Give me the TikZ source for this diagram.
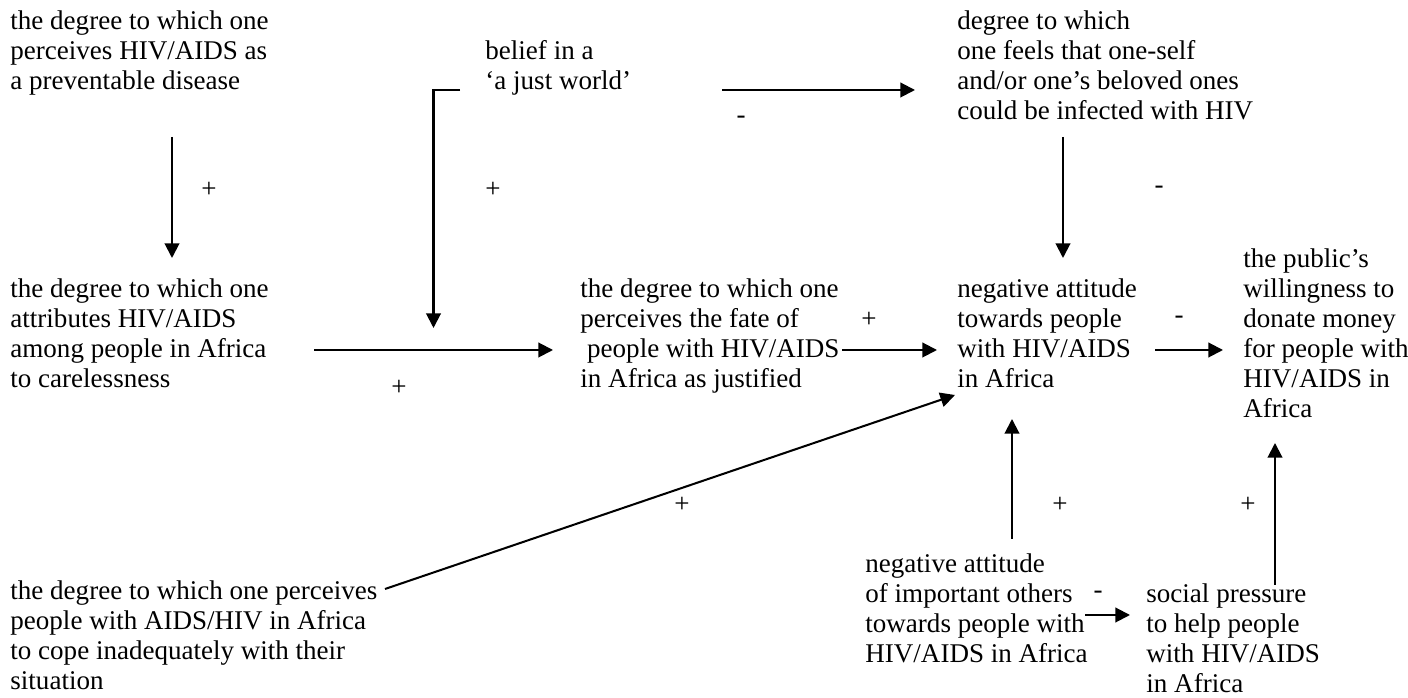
\documentclass[tikz,border=0pt]{standalone}
\usepackage{fontspec}
\setmainfont{Liberation Serif}
\usetikzlibrary{arrows.meta,calc}
\begin{document}
\begin{tikzpicture}[x=0.444pt,y=-0.444pt,
        box/.style={anchor=north west,inner sep=0pt,align=left,
            font=\fontsize{12pt}{13.33pt}\selectfont},
        sign/.style={inner sep=0pt,font=\fontsize{12pt}{13.33pt}\selectfont},
        arr/.style={line width=0.9pt,-{Triangle[length=6.5pt,width=6.5pt]}}]
        \useasboundingbox (0,0) rectangle (1408,698);
        \node[box] (prev) at (10,10) {the degree to which one\\perceives HIV/AIDS as\\a preventable disease};
        \node[box] (world) at (485,40) {belief in a\\‘a just world’};
        \node[box] (risk) at (957,10) {degree to which\\one feels that one-self\\and/or one’s beloved ones\\could be infected with HIV};
        \node[box] (care) at (10,278) {the degree to which one\\attributes HIV/AIDS\\among people in Africa\\to carelessness};
        \node[box] (fate) at (580,278) {the degree to which one\\perceives the fate of\\\ people with HIV/AIDS\\in Africa as justified};
        \node[box] (neg) at (957,278) {negative attitude\\towards people\\with HIV/AIDS\\in Africa};
        \node[box] (don) at (1243,248) {the public’s\\willingness to\\donate money\\for people with\\HIV/AIDS in\\Africa};
        \node[box] (cope) at (10,580) {the degree to which one perceives\\people with AIDS/HIV in Africa\\to cope inadequately with their\\situation};
        \node[box] (oth) at (865,553) {negative attitude\\of important others\\towards people with\\HIV/AIDS in Africa};
        \node[box] (soc) at (1146,583) {social pressure\\to help people\\with HIV/AIDS\\in Africa};

        \draw[arr] ($(prev.north west)+(162,127)$) -- ($(care.north west)+(162,-20)$);
        \draw[arr] ($(care.north west)+(304,72)$) -- ($(fate.north west)+(-27,72)$)
            coordinate[pos=0.5] (mod);
        \draw[arr] ($(world.north west)+(-25,50)$) -| ($(mod)+(0,-22)$);
        \draw[arr] ($(world.north west)+(237,50)$) -- ($(risk.north west)+(-42,80)$);
        \draw[arr] ($(risk.north west)+(106,127)$) -- ($(neg.north west)+(106,-20)$);
        \draw[arr] ($(fate.north west)+(262,72)$) -- ($(neg.north west)+(-20,72)$);
        \draw[arr] ($(neg.north west)+(198,72)$) -- ($(don.north west)+(-20,102)$);
        \draw[arr] ($(cope.north west)+(375,9)$) -- ($(neg.north west)+(-2,117)$);
        \draw[arr] ($(oth.north west)+(147,-14)$) -- ($(neg.north west)+(55,141)$);
        \draw[arr] ($(oth.north west)+(220,62)$) -- ($(soc.north west)+(-16,32)$);
        \draw[arr] ($(soc.north west)+(129,2)$) -- ($(don.north west)+(32,195)$);

        \node[sign] (s1) at (209,190) {+};
        \node[sign] (s2) at (493,190) {+};
        \node[sign] (s3) at (741,120) {-};
        \node[sign] (s4) at (1159,190) {-};
        \node[sign] (s5) at (399,388) {+};
        \node[sign] (s6) at (869,320) {+};
        \node[sign] (s7) at (1179,320) {-};
        \node[sign] (s8) at (682,505) {+};
        \node[sign] (s9) at (1060,505) {+};
        \node[sign] (s10) at (1248,505) {+};
        \node[sign] (s11) at (1098,595) {-};
\end{tikzpicture}
\end{document}
